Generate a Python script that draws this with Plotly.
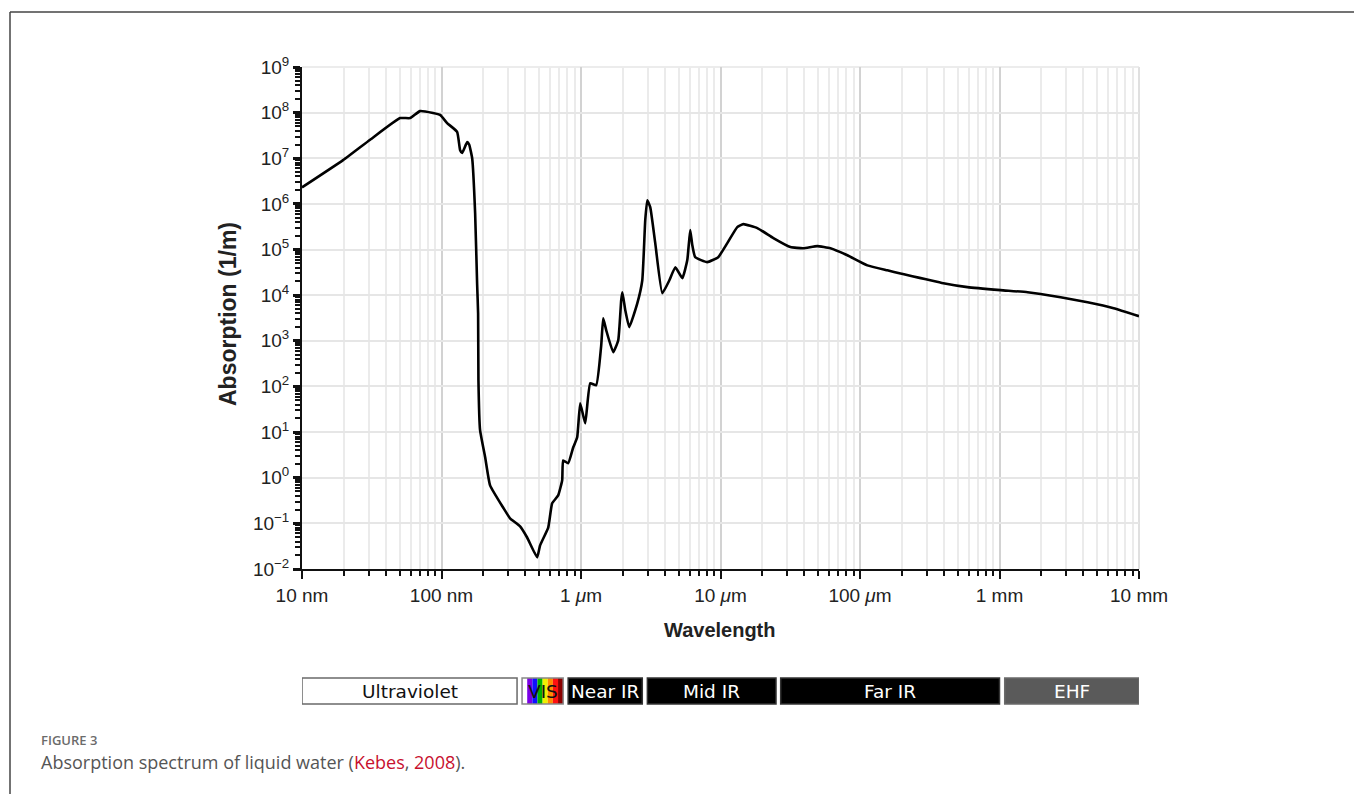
import numpy as np
import plotly.graph_objects as go

# ---- data -------------------------------------------------------------
wavelength_nm = [10, 19.7, 30.8, 50.5, 59.6, 70.2, 87, 97.8, 109.7, 129.4,
                 136, 140.5, 152.7, 157.8, 165.9, 174.2, 180, 183, 184, 189,
                 205.6, 223, 277, 310, 366, 411, 485, 509, 582, 621,
                 686, 733, 745, 809, 879, 939, 987, 1072, 1164, 1285,
                 1396, 1443, 1517, 1702, 1849, 1942, 1980, 2077, 2218, 2532,
                 2749, 2888, 2986, 3135, 3406, 3826, 4292, 4747, 5327, 5781,
                 6067, 6275, 6587, 8035, 9630, 11190, 13190, 14580, 18370, 23930,
                 31700, 39270, 49450, 61350, 81250, 113000, 157000, 195000, 396000, 589000,
                 1016000, 1590000, 2740000, 4280000, 6580000, 1e7]
absorption = [2.3e6, 9.1e6, 2.55e7, 7.6e7, 7.6e7, 1.08e8, 9.8e7, 8.9e7, 5.9e7, 3.8e7,
              1.5e7, 1.3e7, 2.26e7, 2.0e7, 1.0e7, 6.3e5, 1.8e4, 4e3, 137, 11,
              2.8, 0.68, 0.22, 0.129, 0.086, 0.049, 0.018, 0.033, 0.081, 0.275,
              0.41, 0.88, 2.4, 2.07, 4.6, 7.7, 43, 15.6, 117, 107,
              794, 3100, 1700, 562, 1030, 7800, 11600, 4700, 2000, 6600,
              21000, 4.4e5, 1.2e6, 8.5e5, 1.38e5, 1.1e4, 2.1e4, 4.1e4, 2.36e4, 5.9e4,
              2.66e5, 1.26e5, 6.8e4, 5.3e4, 6.8e4, 1.38e5, 3.1e5, 3.6e5, 2.95e5, 1.78e5,
              1.13e5, 1.07e5, 1.19e5, 1.07e5, 7.5e4, 4.5e4, 3.5e4, 3.0e4, 1.83e4, 1.5e4,
              1.29e4, 1.16e4, 9.0e3, 7.0e3, 5.2e3, 3.47e3]

x_tick_vals = [10, 100, 1e3, 1e4, 1e5, 1e6, 1e7]
x_tick_text = ["10 nm", "100 nm", "1 <i>\u03bc</i>m", "10 <i>\u03bc</i>m",
               "100 <i>\u03bc</i>m", "1 mm", "10 mm"]
y_exponents = [-2, -1, 0, 1, 2, 3, 4, 5, 6, 7, 8, 9]
y_tick_text = ["10<sup>%s</sup>" % (str(e).replace("-", "\u2212")) for e in y_exponents]

band_names = ["Ultraviolet", "VIS", "Near IR", "Mid IR", "Far IR", "EHF"]
band_start_nm = [10, 378, 809, 2990, 27000, 1.09e6]
band_end_nm = [348, 745, 2750, 25000, 1.0e6, 1e7]
band_fill = ["#ffffff", None, "#000000", "#000000", "#000000", "#5a5a5a"]
band_text_color = ["#111111", "#111111", "#ffffff", "#ffffff", "#ffffff", "#ffffff"]
vis_colors = ["#ffffff", "#7a00e6", "#1010ff", "#00b000", "#f0f000",
              "#ff8c00", "#ff1010", "#8b0000"]

# ---- figure (page body has an 8px margin, so the figure is shifted) ----
OFF = 8
W, H = 1362 - OFF, 794 - OFF
L, T = 302 - OFF, 67 - OFF
PW, PH = 837, 502
R, B = W - L - PW, H - T - PH


def px_x(px):
    return (px - OFF - L) / PW


def px_y(py):
    return (T + PH - (py - OFF)) / PH


fig = go.Figure()
fig.add_trace(go.Scatter(x=wavelength_nm, y=absorption, mode="lines",
                         line=dict(color="#000000", width=2.6, shape="spline", smoothing=0.4),
                         hoverinfo="skip", showlegend=False))

minor_x = [m * 10 ** k for k in range(1, 7) for m in range(2, 10)]
minor_y = [m * 10.0 ** k for k in range(-2, 9) for m in range(2, 10)]

tickfont = dict(family="Liberation Sans, Arial", size=19, color="#222222")
fig.update_xaxes(type="log", range=[1, 7], tickmode="array", tickvals=x_tick_vals,
                 ticktext=x_tick_text, ticks="outside", ticklen=8, tickwidth=2,
                 tickcolor="#111", showline=True, linecolor="#111", linewidth=2,
                 showgrid=True, gridcolor="#d2d2d2", gridwidth=1.5, zeroline=False,
                 tickfont=tickfont,
                 minor=dict(tickmode="array", tickvals=minor_x, ticks="outside",
                            ticklen=5, tickwidth=1.5, tickcolor="#111",
                            showgrid=True, gridcolor="#ebebeb", gridwidth=1.5))
fig.update_yaxes(type="log", range=[-2, 9], tickmode="array",
                 tickvals=[10.0 ** e for e in y_exponents], ticktext=y_tick_text,
                 ticks="outside", ticklen=7, tickwidth=2.5, tickcolor="#111",
                 showline=True, linecolor="#111", linewidth=2,
                 showgrid=True, gridcolor="#e6e6e6", gridwidth=1.5, zeroline=False,
                 tickfont=tickfont,
                 minor=dict(tickmode="array", tickvals=minor_y, ticks="outside",
                            ticklen=5, tickwidth=1.5, tickcolor="#111", showgrid=False))

shapes = []
# right / top light border of plot area
shapes.append(dict(type="line", xref="paper", yref="paper", x0=1, x1=1, y0=0, y1=1,
                   line=dict(color="#d6d6d6", width=1.5), layer="below"))
shapes.append(dict(type="line", xref="paper", yref="paper", x0=0, x1=1, y0=1, y1=1,
                   line=dict(color="#e6e6e6", width=1.5), layer="below"))

# spectral band boxes
by0, by1 = px_y(704), px_y(678)
annotations = []
for name, s, e, fc, tc in zip(band_names, band_start_nm, band_end_nm, band_fill, band_text_color):
    if fc is None:
        edges = np.logspace(np.log10(s), np.log10(e), len(vis_colors) + 1)
        for c, a, b in zip(vis_colors, edges[:-1], edges[1:]):
            shapes.append(dict(type="rect", xref="x", yref="paper", x0=a, x1=b,
                               y0=by0, y1=by1, fillcolor=c, line=dict(width=0)))
        shapes.append(dict(type="rect", xref="x", yref="paper", x0=s, x1=e,
                           y0=by0, y1=by1, fillcolor="rgba(0,0,0,0)",
                           line=dict(color="#888888", width=1.5)))
    else:
        shapes.append(dict(type="rect", xref="x", yref="paper", x0=s, x1=e,
                           y0=by0, y1=by1, fillcolor=fc,
                           line=dict(color="#6a6a6a" if fc != "#000000" else "#333333", width=1.5)))
    annotations.append(dict(x=(np.log10(s) + np.log10(e)) / 2, y=(by0 + by1) / 2,
                            xref="x", yref="paper", text=name, showarrow=False,
                            font=dict(family="DejaVu Sans", size=18.5, color=tc),
                            xanchor="center", yanchor="middle"))

# outer frame
shapes.append(dict(type="line", xref="paper", yref="paper", x0=px_x(10), x1=px_x(1362),
                   y0=px_y(12), y1=px_y(12), line=dict(color="#444444", width=1.5)))
shapes.append(dict(type="line", xref="paper", yref="paper", x0=px_x(10), x1=px_x(10),
                   y0=px_y(12), y1=px_y(794), line=dict(color="#444444", width=1.5)))

# axis titles
annotations.append(dict(x=px_x(720), y=px_y(630), xref="paper", yref="paper",
                        text="<b>Wavelength</b>", showarrow=False,
                        font=dict(family="Liberation Sans, Arial", size=20, color="#222"),
                        xanchor="center", yanchor="middle"))
annotations.append(dict(x=px_x(228), y=px_y(314), xref="paper", yref="paper",
                        text="<b>Absorption (1/m)</b>", showarrow=False, textangle=-90,
                        font=dict(family="Liberation Sans, Arial", size=23, color="#222"),
                        xanchor="center", yanchor="middle"))

# caption
annotations.append(dict(x=px_x(39), y=px_y(740), xref="paper", yref="paper",
                        text="FIGURE 3", showarrow=False,
                        font=dict(family="Open Sans", size=13, color="#6b6b6b", weight=600),
                        xanchor="left", yanchor="middle"))
annotations.append(dict(x=px_x(39), y=px_y(762), xref="paper", yref="paper",
                        text="Absorption spectrum of liquid water (<span style='color:#c8102e'>Kebes</span>, "
                             "<span style='color:#c8102e'>2008</span>).",
                        showarrow=False,
                        font=dict(family="Open Sans", size=18, color="#555555"),
                        xanchor="left", yanchor="middle"))

fig.update_layout(width=W, height=H, margin=dict(l=L, r=R, t=T, b=B, autoexpand=False),
                  paper_bgcolor="#ffffff", plot_bgcolor="#ffffff",
                  shapes=shapes, annotations=annotations, showlegend=False)

fig.write_html("out.html")
